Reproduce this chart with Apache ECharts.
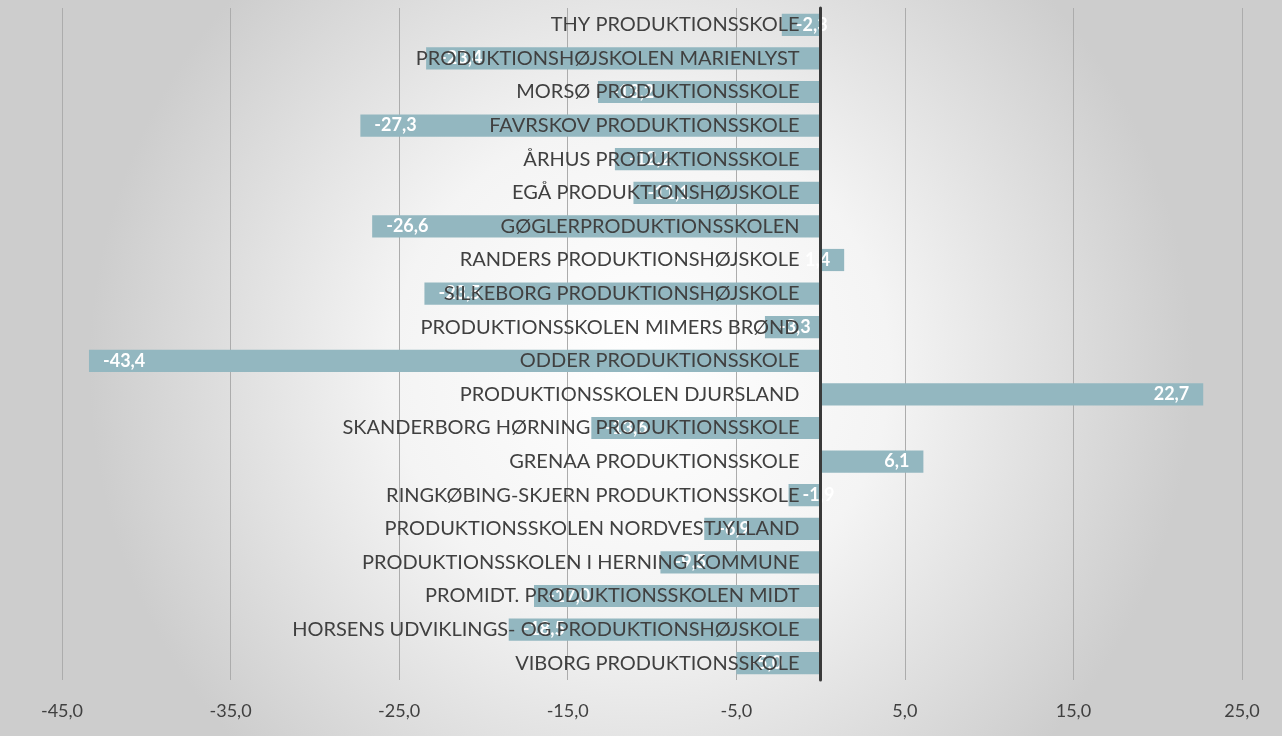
<!DOCTYPE html>
<html><head><meta charset="utf-8">
<script src="https://cdn.jsdelivr.net/npm/echarts@6/dist/echarts.min.js"></script>
<style>html,body{margin:0;padding:0;}#c{width:1282px;height:736px;}</style>
</head><body><div id="c"></div>
<script>
const categories = [
  "THY PRODUKTIONSSKOLE",
  "PRODUKTIONSHØJSKOLEN MARIENLYST",
  "MORSØ PRODUKTIONSSKOLE",
  "FAVRSKOV PRODUKTIONSSKOLE",
  "ÅRHUS PRODUKTIONSSKOLE",
  "EGÅ PRODUKTIONSHØJSKOLE",
  "GØGLERPRODUKTIONSSKOLEN",
  "RANDERS PRODUKTIONSHØJSKOLE",
  "SILKEBORG PRODUKTIONSHØJSKOLE",
  "PRODUKTIONSSKOLEN MIMERS BRØND",
  "ODDER PRODUKTIONSSKOLE",
  "PRODUKTIONSSKOLEN DJURSLAND",
  "SKANDERBORG HØRNING PRODUKTIONSSKOLE",
  "GRENAA PRODUKTIONSSKOLE",
  "RINGKØBING-SKJERN PRODUKTIONSSKOLE",
  "PRODUKTIONSSKOLEN NORDVESTJYLLAND",
  "PRODUKTIONSSKOLEN I HERNING KOMMUNE",
  "PROMIDT. PRODUKTIONSSKOLEN MIDT",
  "HORSENS UDVIKLINGS- OG PRODUKTIONSHØJSKOLE",
  "VIBORG PRODUKTIONSSKOLE"
];
const values = [-2.3, -23.4, -13.2, -27.3, -12.2, -11.1, -26.6, 1.4, -23.5, -3.3, -43.4, 22.7, -13.6, 6.1, -1.9, -6.9, -9.5, -17.0, -18.5, -5.0];
const xMin = -45, xMax = 25, xInterval = 10;

const fmt = v => v.toFixed(1).replace('.', ',');
const chart = echarts.init(document.getElementById('c'));
const FONT = 'Lato';
const gridLeft = 62, gridRight = 40;
const plotW = 1282 - gridLeft - gridRight;
const zeroOffset = (0 - xMin) / (xMax - xMin) * plotW;
chart.setOption({
  backgroundColor: {
    type: 'radial', x: 0.5, y: 0.5, r: 0.75,
    colorStops: [{offset: 0, color: '#ffffff'}, {offset: 0.45, color: '#f4f4f4'}, {offset: 1, color: '#cdcdcd'}]
  },
  animation: false,
  grid: {left: gridLeft, right: gridRight, top: 8, bottom: 56, containLabel: false, outerBoundsMode: 'none'},
  xAxis: {
    type: 'value', min: xMin, max: xMax, interval: xInterval,
    axisLine: {show: false}, axisTick: {show: false},
    splitLine: {show: true, lineStyle: {color: '#acacac', width: 1}},
    axisLabel: {formatter: v => fmt(v), color: '#404040', fontSize: 18, fontFamily: FONT, margin: 22}
  },
  yAxis: {
    type: 'category', data: categories, inverse: true, z: 10,
    axisLine: {show: true, onZero: true, lineStyle: {color: '#3a3a3a', width: 3}},
    axisTick: {show: false},
    axisLabel: {color: '#404040', fontSize: 20, fontFamily: FONT, margin: 21 - zeroOffset}
  },
  series: [{
    type: 'bar', barWidth: '66%',
    itemStyle: {color: '#93b7c0'},
    data: values.map(v => ({value: v, label: {position: v < 0 ? 'insideLeft' : 'insideRight'}})),
    label: {show: true, color: '#ffffff', fontWeight: 'bold', fontSize: 18, fontFamily: FONT,
      formatter: p => fmt(p.value), distance: 14}
  }]
});
</script></body></html>
